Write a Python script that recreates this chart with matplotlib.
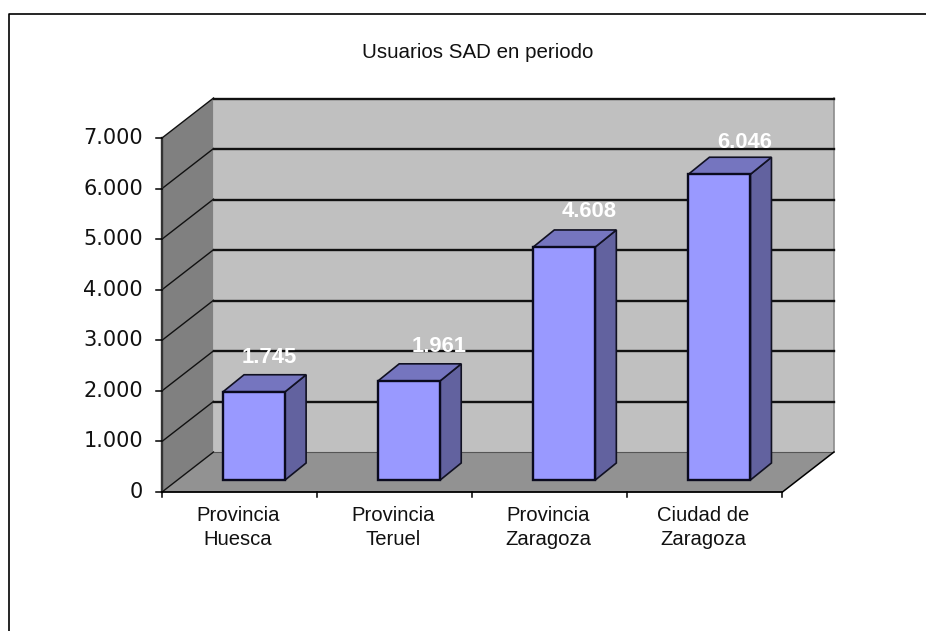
import matplotlib
matplotlib.use("Agg")
import matplotlib.pyplot as plt
from matplotlib.patches import Polygon, Rectangle
from matplotlib.lines import Line2D

categories = ['Provincia\nHuesca', 'Provincia\nTeruel', 'Provincia\nZaragoza', 'Ciudad de\nZaragoza']
values = [1745, 1961, 4608, 6046]
value_labels = ['1.745', '1.961', '4.608', '6.046']
y_ticks = [0, 1000, 2000, 3000, 4000, 5000, 6000, 7000]
y_tick_labels = ['0', '1.000', '2.000', '3.000', '4.000', '5.000', '6.000', '7.000']
title = 'Usuarios SAD en periodo'

# value labels are not placed the same way over each bar (px right of bar centre, px above bar top)
label_nudge_x = [15, 29.5, 25, 25]
label_nudge_y = [34, 34, 35, 32]

plt.rcParams['font.family'] = ['Liberation Sans', 'DejaVu Sans']

W, H = 926, 631
fig = plt.figure(figsize=(W / 100, H / 100), dpi=100)

# axes box runs from the front floor corner to the back wall corner
ax = fig.add_axes([162 / W, 1 - 492 / H, (834 - 162) / W, (492 - 98) / H])
# one category = 155 px, 7000 units = 354 px
px_x = 1 / 155
px_y = 7000 / 354
depth_x = 51.5 * px_x
depth_y = 40 * px_y
ax.set_xlim(-0.5, 3.5 + depth_x)
ax.set_ylim(0, 7000 + depth_y)
ax.axis('off')

x0, x1 = -0.5, 3.5
top = y_ticks[-1]

# walls and floor
ax.add_patch(Polygon([(x0, 0), (x0 + depth_x, depth_y), (x0 + depth_x, top + depth_y), (x0, top)],
                     fc='#808080', ec='none', zorder=1))
ax.add_patch(Rectangle((x0 + depth_x, depth_y), x1 - x0, top, fc='#c0c0c0', ec='none', zorder=1))
ax.add_patch(Polygon([(x0, 0), (x1, 0), (x1 + depth_x, depth_y), (x0 + depth_x, depth_y)],
                     fc='#929292', ec='none', zorder=1))
ax.plot([x1 + depth_x, x1 + depth_x], [depth_y, top + depth_y], color='#8c8c8c', lw=1.2, zorder=2, clip_on=False)
ax.plot([x1, x1 + depth_x], [0, depth_y], color='black', lw=1.1, zorder=3, clip_on=False)

# gridlines, black with a grey edge like the reference
for t in y_ticks:
    if t > 0:
        ax.plot([x0 + depth_x, x1 + depth_x], [t + depth_y - 0.6 * px_y] * 2, color='#111111', lw=1.7, zorder=2, clip_on=False)
    ax.plot([x0, x0 + depth_x], [t, t + depth_y], color='#111111', lw=1.0, zorder=2, clip_on=False)
ax.plot([x0 + depth_x, x1 + depth_x], [depth_y, depth_y], color='#555555', lw=0.8, zorder=2)

# axis lines and ticks
ax.plot([x0, x0], [0, top], color='#333333', lw=1.7, zorder=3, clip_on=False)
ax.plot([x0, x1], [0, 0], color='black', lw=1.3, zorder=3, clip_on=False)
for t, lab in zip(y_ticks, y_tick_labels):
    ax.plot([x0 - 6 * px_x, x0], [t, t], color='black', lw=1.1, zorder=3, clip_on=False)
    # DejaVu is closer to the wide letter spacing of these labels
    ax.text(x0 - 19 * px_x, t, lab, ha='right', va='center', fontsize=15, color='#111111', family='DejaVu Sans')
for i in range(len(categories) + 1):
    ax.plot([x0 + i, x0 + i], [0, -5 * px_y], color='black', lw=1.1, zorder=3, clip_on=False)

# bars sit part way back on the floor
bar_w = 0.4
shift_x = 14.5 * px_x
shift_y = 12 * px_y
bar_dx = 21 * px_x
bar_dy = 17 * px_y
for i, (v, lab) in enumerate(zip(values, value_labels)):
    l = i - bar_w / 2 + shift_x
    r = l + bar_w
    b = shift_y
    t = b + v
    ax.add_patch(Polygon([(r, b), (r + bar_dx, b + bar_dy), (r + bar_dx, t + bar_dy), (r, t)],
                         fc='#62629f', ec='#111122', lw=1.2, zorder=5))
    ax.add_patch(Polygon([(l, t), (l + bar_dx, t + bar_dy), (r + bar_dx, t + bar_dy), (r, t)],
                         fc='#7575bf', ec='#111122', lw=1.2, zorder=5))
    ax.add_patch(Rectangle((l, b), bar_w, v, fc='#9999ff', ec='#0a0a1e', lw=1.7, zorder=6))
    ax.text((l + r) / 2 + label_nudge_x[i] * px_x, t + label_nudge_y[i] * px_y, lab, ha='center', va='center',
            fontsize=15.8, fontweight='bold', color='white', zorder=7)

for i, lab in enumerate(categories):
    ax.text(i - 1.5 * px_x, -35.5 * px_y, lab, ha='center', va='center', fontsize=14.6, color='#111111',
            linespacing=1.35, clip_on=False)

fig.text(477.5 / W, 1 - 52 / H, title, ha='center', va='center', fontsize=14.8, color='#111111')

# chart frame, open at the right and bottom edge of the image
fig.add_artist(Line2D([9 / W, 9 / W, 926 / W], [0, 1 - 14 / H, 1 - 14 / H], color='black', lw=1.2))

fig.savefig('out.png', dpi=100)
